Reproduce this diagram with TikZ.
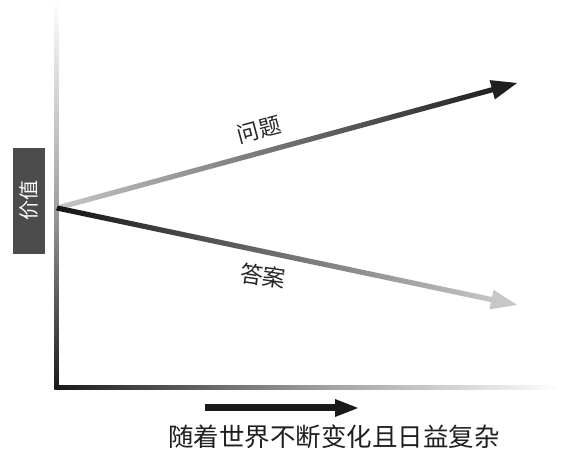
\documentclass[tikz,border=0pt]{standalone}
\usepackage{fontspec}
\newfontfamily\cjk{Noto Sans CJK SC}
\begin{document}
\begin{tikzpicture}[x=1pt,y=1pt,
  lbl/.style={font=\cjk\fontsize{22}{22}\selectfont, text=black!85, inner sep=0pt},
  headfill/.style={line join=miter}]
\useasboundingbox (0,0) rectangle (561,449);
% axes
\coordinate (origin) at (57,61);
\shade[top color=white, bottom color=black!90, middle color=black!35] (54.5,449) rectangle (58.5,59);
\shade[left color=black!90, right color=white, middle color=black!40] (54.5,59) rectangle (561,63.5);
% value box
\node[fill=black!70, minimum width=32pt, minimum height=106pt, inner sep=0pt] (val) at (29,248) {};
\node[font=\cjk\fontsize{20}{20}\selectfont, text=white, rotate=90] (valtxt) at (val.center) {价值};
% problem arrow (light -> dark)
\coordinate (start) at (57,241);
\coordinate (ptip) at (517,366);
\coordinate (atip) at (517,144);
\begin{scope}[shift={(start)}, rotate=15.2]
  \shade[left color=black!22, right color=black!88] (0,-2.6) rectangle (455,2.6);
  \fill[black!88] (451,-10) -- (476.7,0) -- (451,10) -- cycle;
\end{scope}
% answer arrow (dark -> light)
\begin{scope}[shift={(start)}, rotate=-11.9]
  \shade[left color=black!92, right color=black!22] (0,-2.6) rectangle (448,2.6);
  \fill[black!22] (444,-10) -- (470.1,0) -- (444,10) -- cycle;
\end{scope}
\node[lbl, rotate=15] (q) at (259,319) {问题};
\node[lbl, font=\cjk\fontsize{23}{23}\selectfont, rotate=-8] (a) at (263,173) {答案};
% bottom arrow
\coordinate (b1) at (205,41);
\coordinate (b2) at (358,41);
\fill[black!90] (205,37.5) rectangle (337,44.5);
\fill[black!90] (335,32) -- (358,41) -- (335,50) -- cycle;
\node[font=\cjk\fontsize{25.5}{26}\selectfont, text=black!88, inner sep=0pt] (t) at (334,12) {随着世界不断变化且日益复杂};
\end{tikzpicture}
\end{document}
